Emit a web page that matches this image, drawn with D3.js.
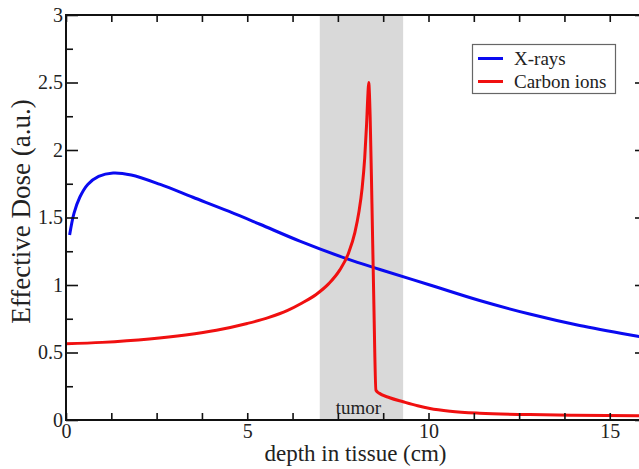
<!DOCTYPE html>
<html>
<head>
<meta charset="utf-8">
<script src="https://cdn.jsdelivr.net/npm/d3@7"></script>
<style>
  body { margin: 0; background: #fff; }
  svg { display: block; }
  text { font-family: "Liberation Serif", "DejaVu Serif", serif; fill: #222; }
</style>
</head>
<body>
<div id="chart"></div>
<script>
// depth (cm) / effective dose (a.u.)
const xrayDepth = [0.1, 0.22, 0.38, 0.6, 0.9, 1.3, 1.8, 2.6, 3.5, 4.5, 5.35, 6.45, 7.74, 8.66, 10.04, 11.41, 12.79, 14.17, 15.77, 16.2]
const xrayDose  = [1.37, 1.53, 1.65, 1.745, 1.805, 1.83, 1.815, 1.745, 1.65, 1.545, 1.45, 1.325, 1.195, 1.115, 1.0, 0.885, 0.785, 0.70, 0.62, 0.60]

const carbonDepth = [0, 1, 2.3, 3.3, 4.15, 5.0, 5.6, 6.1, 6.5, 6.9, 7.25, 7.55, 7.8, 7.97, 8.08, 8.17, 8.24, 8.29, 8.33, 8.35, 8.39, 8.44, 8.49, 8.55, 8.63, 8.93, 9.3, 9.7, 10.04, 10.6, 11.41, 12.79, 14.0, 16.2]
const carbonDose  = [0.565, 0.575, 0.60, 0.63, 0.665, 0.715, 0.76, 0.81, 0.865, 0.93, 1.01, 1.11, 1.24, 1.39, 1.54, 1.72, 1.94, 2.18, 2.42, 2.50, 2.25, 1.60, 0.90, 0.22, 0.2, 0.165, 0.135, 0.105, 0.085, 0.065, 0.05, 0.04, 0.035, 0.03]

const tumorRange = [7.0, 9.3]

const xMajor = [0, 5, 10, 15]
const xMinor = [1.25, 2.5, 3.75, 6.25, 7.5, 8.75, 11.25, 12.5, 13.75]
const yMajor = [0, 0.5, 1, 1.5, 2, 2.5, 3]
const yMajorLabels = ['0', '0.5', '1', '1.5', '2', '2.5', '3']
const yMinor = [0.25, 0.75, 1.25, 1.75, 2.25, 2.75]

const seriesNames = ['X-rays', 'Carbon ions']
const seriesColors = ['#0a0af0', '#f01010']

const width = 639
const height = 469
const plotLeft = 66, plotRight = 646, plotTop = 15, plotBottom = 420

const svg = d3.select('#chart').append('svg')
  .attr('width', width)
  .attr('height', height)

const x = d3.scaleLinear().domain([0, 16]).range([plotLeft, plotRight])
const y = d3.scaleLinear().domain([0, 3]).range([plotBottom, plotTop])

svg.append('defs').append('clipPath').attr('id', 'plot')
  .append('rect')
  .attr('x', plotLeft).attr('y', plotTop)
  .attr('width', plotRight - plotLeft).attr('height', plotBottom - plotTop)

// tumor band
svg.append('rect')
  .attr('x', x(tumorRange[0]))
  .attr('y', plotTop)
  .attr('width', x(tumorRange[1]) - x(tumorRange[0]))
  .attr('height', plotBottom - plotTop)
  .attr('fill', '#d9d9d9')

svg.append('text')
  .attr('x', x((tumorRange[0] + tumorRange[1]) / 2) - 3)
  .attr('y', 414)
  .attr('text-anchor', 'middle')
  .style('font-size', '19px')
  .text('tumor')

// curves: smooth one for x-rays, monotone for the sharp Bragg peak
const curves = [d3.curveCatmullRom.alpha(0.5), d3.curveMonotoneX]

const series = [
  d3.zip(xrayDepth, xrayDose),
  d3.zip(carbonDepth, carbonDose)
]

svg.append('g')
  .attr('clip-path', 'url(#plot)')
  .selectAll('path')
  .data(series)
  .enter()
  .append('path')
  .attr('d', (d, i) => d3.line()
    .x(p => x(p[0]))
    .y(p => y(p[1]))
    .curve(curves[i])(d))
  .attr('fill', 'none')
  .attr('stroke', (d, i) => seriesColors[i])
  .attr('stroke-width', 3)
  .attr('stroke-linejoin', 'round')

// axes, ticks pointing inward
function styleAxis(g) {
  g.select('.domain').remove()
  g.selectAll('line').attr('stroke', '#111').attr('stroke-width', 1.6)
  g.selectAll('text').style('font-size', '20px').attr('fill', '#222')
}

svg.append('g')
  .attr('transform', `translate(0, ${plotBottom})`)
  .call(d3.axisBottom(x).tickValues(xMajor).tickSize(-7).tickPadding(4).tickFormat(d3.format('d')))
  .call(styleAxis)

svg.append('g')
  .attr('transform', `translate(0, ${plotBottom})`)
  .call(d3.axisBottom(x).tickValues(xMinor).tickSize(-7).tickFormat(''))
  .call(styleAxis)

svg.append('g')
  .attr('transform', `translate(0, ${plotTop})`)
  .call(d3.axisTop(x).tickValues(xMajor.concat(xMinor)).tickSize(-7).tickFormat(''))
  .call(styleAxis)

svg.append('g')
  .attr('transform', `translate(${plotLeft}, 0)`)
  .call(d3.axisLeft(y).tickValues(yMajor).tickSize(-12).tickPadding(3)
    .tickFormat((d, i) => yMajorLabels[i]))
  .call(styleAxis)

svg.append('g')
  .attr('transform', `translate(${plotLeft}, 0)`)
  .call(d3.axisLeft(y).tickValues(yMinor).tickSize(-7).tickFormat(''))
  .call(styleAxis)

svg.append('g')
  .attr('transform', `translate(${plotRight}, 0)`)
  .call(d3.axisRight(y).tickValues(yMajor).tickSize(-11).tickFormat(''))
  .call(styleAxis)

svg.append('g')
  .attr('transform', `translate(${plotRight}, 0)`)
  .call(d3.axisRight(y).tickValues(yMinor).tickSize(-6).tickFormat(''))
  .call(styleAxis)

// frame
svg.append('rect')
  .attr('x', plotLeft).attr('y', plotTop)
  .attr('width', plotRight - plotLeft).attr('height', plotBottom - plotTop)
  .attr('fill', 'none')
  .attr('stroke', '#111')
  .attr('stroke-width', 2)

// axis titles
svg.append('text')
  .attr('x', (plotLeft + 639) / 2 + 3)
  .attr('y', 461)
  .attr('text-anchor', 'middle')
  .style('font-size', '23px')
  .text('depth in tissue (cm)')

svg.append('text')
  .attr('transform', `translate(30, ${(95 + 328) / 2}) rotate(-90)`)
  .attr('text-anchor', 'middle')
  .style('font-size', '27px')
  .text('Effective Dose (a.u.)')

// legend
const legend = svg.append('g')

legend.append('rect')
  .attr('x', 472.5).attr('y', 44.5)
  .attr('width', 143).attr('height', 49)
  .attr('fill', '#fff')
  .attr('stroke', '#666')
  .attr('stroke-width', 1.2)

const legendItem = legend.selectAll('g.item')
  .data(seriesNames)
  .enter()
  .append('g')
  .attr('class', 'item')
  .attr('transform', (d, i) => `translate(0, ${i === 0 ? 58.5 : 81.5})`)

legendItem.append('line')
  .attr('x1', 478).attr('x2', 503)
  .attr('stroke', (d, i) => seriesColors[i])
  .attr('stroke-width', 3)

legendItem.append('text')
  .attr('x', 514)
  .attr('y', 6.5)
  .style('font-size', '19px')
  .text(d => d)
</script>
</body>
</html>
